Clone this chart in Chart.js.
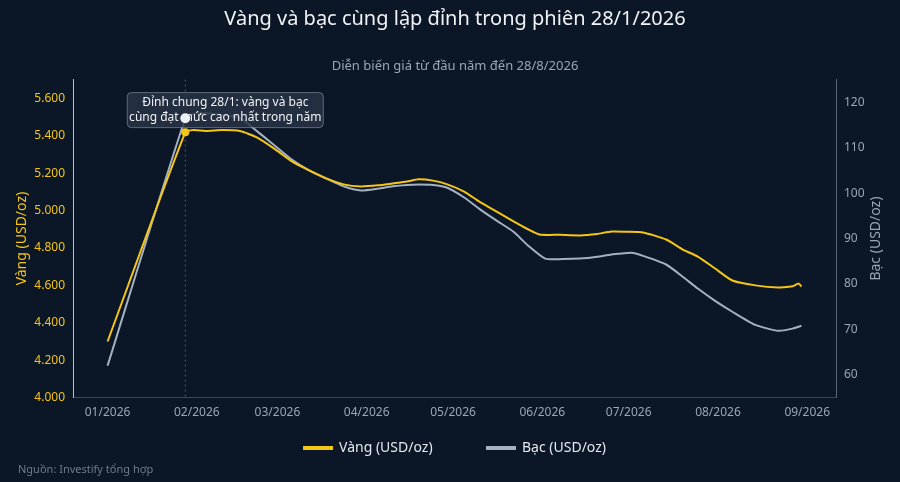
<!DOCTYPE html>
<html>
<head>
<meta charset="utf-8">
<script src="https://cdn.jsdelivr.net/npm/chart.js@4.4.0/dist/chart.umd.min.js"></script>
<style>
  html, body { margin: 0; padding: 0; background: #0b1626; }
  #wrap { width: 900px; height: 482px; position: relative; }
</style>
</head>
<body>
<div id="wrap"><canvas id="c"></canvas></div>
<script>
// day of year (1/1/2026 = 0)
const goldDays = [0, 27, 30, 34, 40, 46, 52, 58, 64, 70, 76, 82, 88, 94, 99, 104, 108, 113, 118, 124, 129, 135, 141, 146, 150, 157, 164, 170, 175, 180, 186, 194, 200, 205, 211, 217, 225, 233, 238, 240, 241];
const goldValues = [4300, 5418, 5430, 5425, 5430, 5425, 5390, 5330, 5263, 5215, 5172, 5140, 5129, 5135, 5145, 5155, 5167, 5160, 5140, 5100, 5049, 4995, 4942, 4900, 4872, 4870, 4867, 4875, 4888, 4887, 4883, 4845, 4790, 4754, 4690, 4626, 4600, 4589, 4595, 4610, 4594];
const silverDays = [0, 27, 30, 34, 40, 46, 52, 58, 64, 70, 76, 82, 88, 94, 99, 104, 108, 113, 118, 124, 129, 135, 141, 146, 152, 158, 164, 170, 175, 182, 186, 194, 200, 205, 211, 217, 225, 233, 238, 241];
const silverValues = [62, 116.5, 117.5, 117.6, 117.2, 116.5, 113.6, 110.5, 107.4, 105, 103.2, 101.5, 100.6, 101, 101.5, 101.8, 101.9, 101.8, 101.2, 99, 96.6, 94, 91.5, 88.5, 85.6, 85.5, 85.6, 86, 86.5, 86.9, 86.2, 84.3, 81.5, 79, 76.3, 73.9, 71, 69.7, 70.2, 70.8];
const monthDays = [0, 31, 59, 90, 120, 151, 181, 212, 243];
const monthLabels = ['01/2026', '02/2026', '03/2026', '04/2026', '05/2026', '06/2026', '07/2026', '08/2026', '09/2026'];
const peakDay = 27;
const noteLines = ['Đỉnh chung 28/1: vàng và bạc', 'cùng đạt mức cao nhất trong năm'];

const GOLD = '#f5c518', SILVER = '#a3b1c2', TXT = '#9aa6b6';
const font = 'Noto Sans';
Chart.defaults.font.family = font;

const pts = (d, v) => d.map((x, i) => ({ x: x, y: v[i] }));

const extras = {
  id: 'extras',
  beforeDatasetsDraw(chart) {
    const c = chart.ctx, x = chart.scales.x.getPixelForValue(peakDay), a = chart.chartArea;
    c.save();
    c.strokeStyle = 'rgba(160,170,185,0.45)';
    c.setLineDash([2, 3]);
    c.lineWidth = 1;
    c.beginPath(); c.moveTo(x, a.top); c.lineTo(x, a.bottom); c.stroke();
    c.restore();
  },
  afterDatasetsDraw(chart) {
    const c = chart.ctx, x = chart.scales.x.getPixelForValue(peakDay), a = chart.chartArea;
    c.save();
    c.font = '12px ' + font;
    const w = 196, h = 35, cx = x + 40, top = a.top + 13;
    c.fillStyle = 'rgba(40,52,70,0.85)';
    c.strokeStyle = 'rgba(140,150,165,0.6)';
    c.lineWidth = 1;
    c.beginPath(); c.roundRect(cx - w / 2, top, w, h, 4); c.fill(); c.stroke();
    c.fillStyle = '#f1f3f6';
    c.textAlign = 'center'; c.textBaseline = 'middle';
    c.fillText(noteLines[0], cx, top + 10);
    c.fillText(noteLines[1], cx, top + 25);
    // peak markers
    const gy = chart.scales.y.getPixelForValue(goldValues[1]);
    const sy = chart.scales.y1.getPixelForValue(silverValues[1]);
    c.fillStyle = GOLD; c.beginPath(); c.arc(x, gy, 4, 0, Math.PI * 2); c.fill();
    c.fillStyle = '#eef1f5'; c.beginPath(); c.arc(x, sy, 5, 0, Math.PI * 2); c.fill();
    // right axis title, reading bottom to top
    c.font = '14px ' + font;
    c.fillStyle = TXT;
    c.translate(876, (a.top + a.bottom) / 2);
    c.rotate(-Math.PI / 2);
    c.fillText('Bạc (USD/oz)', 0, 0);
    c.setTransform(1, 0, 0, 1, 0, 0);
    c.scale(chart.currentDevicePixelRatio, chart.currentDevicePixelRatio);
    // source
    c.font = '11px ' + font;
    c.fillStyle = '#6f7c8d';
    c.textAlign = 'left';
    c.fillText('Nguồn: Investify tổng hợp', 18, 470);
    c.restore();
  }
};

new Chart(document.getElementById('c'), {
  type: 'line',
  data: {
    datasets: [
      { label: 'Vàng (USD/oz)', data: pts(goldDays, goldValues), borderColor: GOLD, backgroundColor: GOLD, borderWidth: 2, pointRadius: 0, yAxisID: 'y', tension: 0.2 },
      { label: 'Bạc (USD/oz)', data: pts(silverDays, silverValues), borderColor: SILVER, backgroundColor: SILVER, borderWidth: 2, pointRadius: 0, yAxisID: 'y1', tension: 0.2 }
    ]
  },
  options: {
    responsive: true,
    maintainAspectRatio: false,
    animation: false,
    layout: { padding: { left: 10, right: 0, bottom: 17 } },
    plugins: {
      title: { display: true, text: 'Vàng và bạc cùng lập đỉnh trong phiên 28/1/2026', color: '#f1f3f6', font: { size: 20, weight: 'normal' }, padding: { top: 7, bottom: 27 } },
      subtitle: { display: true, text: 'Diễn biến giá từ đầu năm đến 28/8/2026', color: TXT, font: { size: 13 }, padding: { bottom: 6 } },
      legend: {
        position: 'bottom',
        labels: {
          color: '#e6e9ee', font: { size: 14 }, boxWidth: 28, boxHeight: 2, padding: 18,
          generateLabels: ch => Chart.defaults.plugins.legend.labels.generateLabels(ch).map((l, i) => {
            if (i === 0) l.text = l.text + '          ';
            return l;
          })
        }
      },
      tooltip: { enabled: false }
    },
    scales: {
      x: {
        type: 'linear', min: -12, max: 253,
        afterBuildTicks: s => { s.ticks = monthDays.map(v => ({ value: v })); },
        ticks: { color: TXT, font: { size: 12 }, callback: (v) => monthLabels[monthDays.indexOf(v)] || '' },
        grid: { display: false, drawTicks: true, tickLength: 5, color: '#3a4656' },
        border: { color: '#3a4656' }
      },
      y: {
        position: 'left', min: 4000, max: 5700,
        afterBuildTicks: s => { s.ticks = s.ticks.filter(t => t.value <= 5600 && t.value % 200 === 0); },
        afterFit: s => { s.width = 63; },
        ticks: { stepSize: 200, color: GOLD, font: { size: 12 }, callback: v => v.toLocaleString('en-US').replace(',', '.') },
        grid: { display: false, tickLength: 5, color: GOLD },
        border: { color: GOLD },
        title: { display: true, text: 'Vàng (USD/oz)', color: GOLD, font: { size: 14 } }
      },
      y1: {
        position: 'right', min: 55, max: 125,
        afterBuildTicks: s => { s.ticks = s.ticks.filter(t => t.value % 10 === 0 && t.value >= 60 && t.value <= 120); },
        afterFit: s => { s.width = 64; },
        ticks: { stepSize: 5, color: TXT, font: { size: 12 } },
        grid: { display: false, tickLength: 5, color: '#5a6676' },
        border: { color: '#5a6676' }
      }
    }
  },
  plugins: [extras]
});
</script>
</body>
</html>
